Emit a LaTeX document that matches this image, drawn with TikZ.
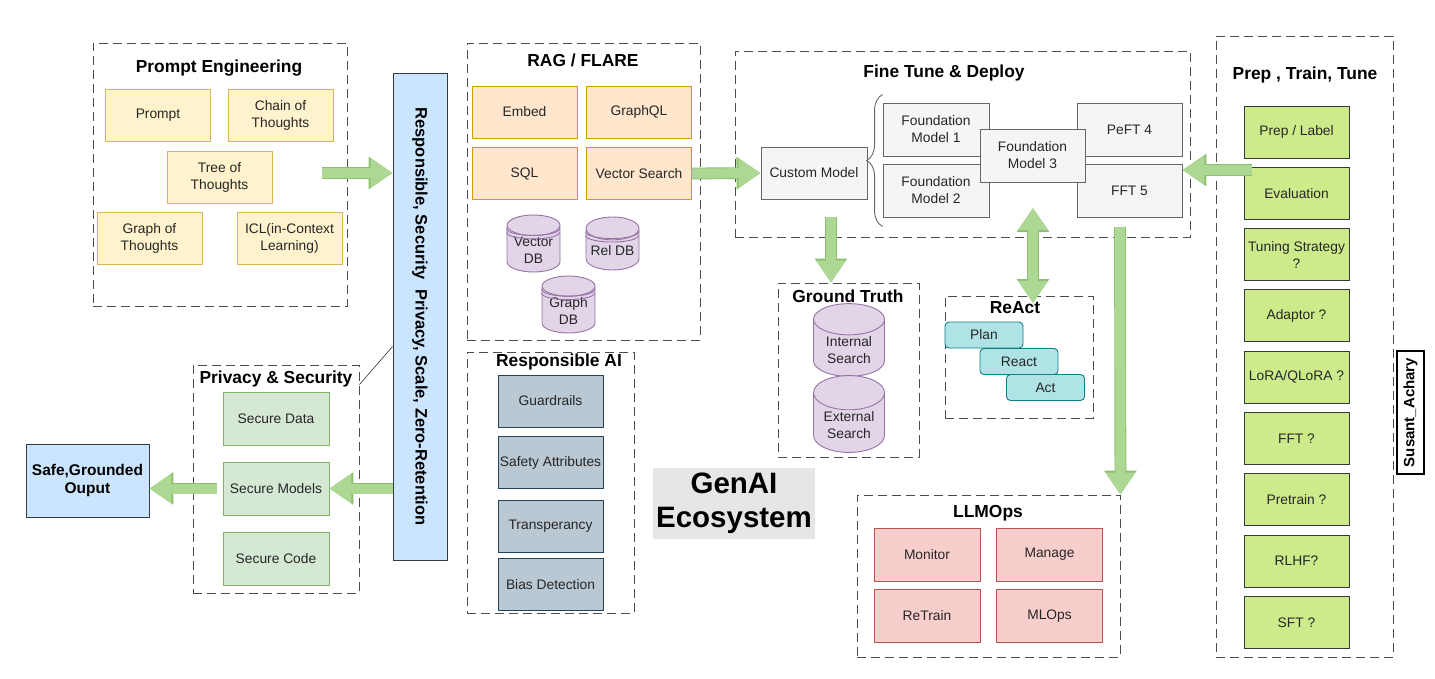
\documentclass[tikz,border=0pt]{standalone}
\usepackage{fontspec}
\setmainfont{Liberation Sans}
\usetikzlibrary{positioning,shapes.geometric,arrows.meta,decorations.pathreplacing,calc}

\definecolor{promptfill}{HTML}{FFF2CC}
\definecolor{promptline}{HTML}{D6B656}
\definecolor{ragfill}{HTML}{FFE6CC}
\definecolor{ragline}{HTML}{D79B00}
\definecolor{dbfill}{HTML}{E1D5E7}
\definecolor{dbline}{HTML}{9673A6}
\definecolor{secfill}{HTML}{D5E8D4}
\definecolor{secline}{HTML}{82B366}
\definecolor{barfill}{HTML}{CCE5FF}
\definecolor{barline}{HTML}{36393D}
\definecolor{raifill}{HTML}{BAC8D3}
\definecolor{railine}{HTML}{23445D}
\definecolor{ftfill}{HTML}{F5F5F5}
\definecolor{ftline}{HTML}{666666}
\definecolor{reactfill}{HTML}{B0E3E6}
\definecolor{reactline}{HTML}{0E8088}
\definecolor{opsfill}{HTML}{F8CECC}
\definecolor{opsline}{HTML}{B85450}
\definecolor{tunefill}{HTML}{CDEB8B}
\definecolor{tuneline}{HTML}{36393D}
\definecolor{flowgreen}{HTML}{ACD893}
\definecolor{flowedge}{HTML}{8CC070}
\definecolor{genaigray}{HTML}{E6E6E6}

\tikzset{
    group/.style={draw=black!70, line width=0.9pt, dash pattern=on 9pt off 5pt, inner sep=0pt},
    heading/.style={font=\bfseries\fontsize{17.4}{20}\selectfont, inner sep=1pt},
    box/.style={draw, line width=0.9pt, minimum width=105pt, minimum height=52pt, inner sep=1pt,
        align=center, text=black!85, font=\fontsize{13.8}{17}\selectfont},
    pbox/.style={box, fill=promptfill, draw=promptline},
    rbox/.style={box, fill=ragfill, draw=ragline},
    sbox/.style={box, fill=secfill, draw=secline},
    aibox/.style={box, fill=raifill, draw=railine},
    fbox/.style={box, fill=ftfill, draw=ftline},
    obox/.style={box, fill=opsfill, draw=opsline},
    tbox/.style={box, fill=tunefill, draw=tuneline},
    actbox/.style={box, fill=reactfill, draw=reactline, rounded corners=4pt, minimum width=78pt, minimum height=26pt},
    db/.style={cylinder, shape border rotate=90, aspect=0.5, anchor=shape center, draw=dbline, fill=dbfill,
        line width=0.9pt, minimum width=53pt, minimum height=53pt, inner sep=1pt, align=center, text=black!85,
        font=\fontsize{13.8}{17}\selectfont},
    dbring/.style={draw=dbline, line width=0.9pt},
    flow/.style={draw=flowgreen, line width=10pt, -{Triangle[length=22pt,width=28pt]},
        preaction={draw=flowedge, line width=11.8pt, -{Triangle[length=24pt,width=31pt]}}},
    flowboth/.style={draw=flowgreen, line width=10pt, {Triangle[length=22pt,width=28pt]}-{Triangle[length=22pt,width=28pt]},
        preaction={draw=flowedge, line width=11.8pt, {Triangle[length=24pt,width=31pt]}-{Triangle[length=24pt,width=31pt]}}}
}

\begin{document}
\begin{tikzpicture}[x=1pt, y=-1pt]
    \useasboundingbox (0,0) rectangle (1435,678);

    % Groups
    \node[group, minimum width=254pt, minimum height=263pt] (pe) at (220,174.5) {};
    \node[group, minimum width=166pt, minimum height=228pt] (priv) at (276,479) {};
    \node[group, minimum width=233pt, minimum height=297pt] (rag) at (583.5,191.5) {};
    \node[group, minimum width=167pt, minimum height=261pt] (rai) at (550.5,482.5) {};
    \node[group, minimum width=455pt, minimum height=186pt] (ft) at (962.5,144) {};
    \node[group, minimum width=141pt, minimum height=174pt] (gt) at (848.5,370) {};
    \node[group, minimum width=148pt, minimum height=122pt] (ra) at (1019,357) {};
    \node[group, minimum width=263pt, minimum height=162pt] (ops) at (988.5,576) {};
    \node[group, minimum width=177pt, minimum height=621pt] (ptt) at (1304.5,346.5) {};

    % Prompt Engineering
    \node[heading] (petitle) at (219,68) {Prompt Engineering};
    \node[pbox] (prompt) at (158,115.5) {Prompt};
    \node[pbox] (chain) at (280.5,115.5) {Chain of\\Thoughts};
    \node[pbox] (tree) at (219.5,177) {Tree of\\Thoughts};
    \node[pbox] (graph) at (149.5,238) {Graph of\\Thoughts};
    \node[pbox] (icl) at (289.5,238) {ICL(in-Context\\Learning)};

    % Responsible bar
    \node[draw=barline, fill=barfill, line width=0.9pt, minimum width=54pt, minimum height=487pt] (bar) at (420,316.5) {};
    \node[rotate=-90, font=\bfseries\fontsize{16.5}{19}\selectfont] (bartext) at (bar.center)
        {Responsible, Security\ \ Privacy, Scale, Zero-Retention};

    % Privacy & Security
    \node[heading] (privtitle) at (276,379) {Privacy \& Security};
    \node[sbox, minimum width=106pt, minimum height=53pt] (secdata) at (276,418.5) {Secure Data};
    \node[sbox, minimum width=106pt, minimum height=53pt] (secmod) at (276,488.5) {Secure Models};
    \node[sbox, minimum width=106pt, minimum height=53pt] (seccode) at (276,558.5) {Secure Code};

    \node[draw=barline, fill=barfill, line width=0.9pt, minimum width=123pt, minimum height=73pt, align=center,
        font=\bfseries\fontsize{15.5}{18}\selectfont] (safe) at (87.5,480.5) {Safe,Grounded\\Ouput};

    % RAG / FLARE
    \node[heading] (ragtitle) at (583,60) {RAG / FLARE};
    \node[rbox] (embed) at (524.5,112) {Embed};
    \node[rbox] (graphql) at (639,112) {GraphQL};
    \node[rbox] (sql) at (524.5,173.5) {SQL};
    \node[rbox] (vsearch) at (639,173.5) {Vector Search};
    \node[db] (vecdb) at (533.5,243.5) {Vector\\DB};
    \node[db] (reldb) at (612.5,243.5) {Rel DB};
    \node[db] (graphdb) at (568.5,304.5) {Graph\\DB};
    \draw[dbring] ($(vecdb.before top)+(0,3.5)$) arc[start angle=180, end angle=360, x radius=26.5pt, y radius=6.6pt]
        ($(vecdb.before top)+(0,7)$) arc[start angle=180, end angle=360, x radius=26.5pt, y radius=6.6pt];
    \draw[dbring] ($(reldb.before top)+(0,3.5)$) arc[start angle=180, end angle=360, x radius=26.5pt, y radius=6.6pt]
        ($(reldb.before top)+(0,7)$) arc[start angle=180, end angle=360, x radius=26.5pt, y radius=6.6pt];
    \draw[dbring] ($(graphdb.before top)+(0,3.5)$) arc[start angle=180, end angle=360, x radius=26.5pt, y radius=6.6pt]
        ($(graphdb.before top)+(0,7)$) arc[start angle=180, end angle=360, x radius=26.5pt, y radius=6.6pt];

    % Responsible AI
    \node[heading] (raititle) at (559,362) {Responsible AI};
    \node[aibox] (guard) at (550.5,401) {Guardrails};
    \node[aibox] (safety) at (550.5,462.5) {Safety Attributes};
    \node[aibox] (transp) at (550.5,526) {Transperancy};
    \node[aibox] (bias) at (550.5,584.5) {Bias Detection};

    \node[fill=genaigray, minimum width=156pt, minimum height=71pt, align=center,
        font=\bfseries\fontsize{29.5}{34}\selectfont] (genai) at (734,503.5) {GenAI\\Ecosystem};

    % Fine Tune & Deploy
    \node[heading] (fttitle) at (944,73) {Fine Tune \& Deploy};
    \node[fbox, minimum width=106pt] (custom) at (814,173) {Custom Model};
    \node[fbox, minimum width=106pt, minimum height=53pt] (fm1) at (936,129.5) {Foundation\\Model 1};
    \node[fbox, minimum width=106pt, minimum height=53pt] (fm2) at (936,190.5) {Foundation\\Model 2};
    \node[fbox, minimum width=105pt, minimum height=53pt] (peft) at (1129.5,129.5) {PeFT 4};
    \node[fbox, minimum width=105pt, minimum height=53pt] (fft5) at (1129.5,191) {FFT 5};
    \node[fbox, minimum width=105pt, minimum height=53pt] (fm3) at (1032.5,155.5) {Foundation\\Model 3};
    \draw[ftline, line width=0.9pt, decorate, decoration={brace, amplitude=16pt}]
        ([yshift=-9pt]fm2.south west) -- ([yshift=8pt]fm1.north west);

    % Ground Truth
    \node[heading] (gttitle) at (848,296) {Ground Truth};
    \node[db, aspect=0.65, minimum width=71pt, minimum height=70pt] (intsearch) at (849,340) {Internal\\Search};
    \node[db, aspect=0.65, minimum width=71pt, minimum height=69pt] (extsearch) at (849,414) {External\\Search};

    % ReAct
    \node[heading] (ratitle) at (1015,308) {ReAct};
    \node[actbox] (plan) at (984,335) {Plan};
    \node[actbox] (reactb) at (1019,361.5) {React};
    \node[actbox] (act) at (1045.5,387.5) {Act};

    % LLMOps
    \node[heading] (opstitle) at (988,513) {LLMOps};
    \node[obox, minimum width=106pt, minimum height=53pt] (monitor) at (927,554.5) {Monitor};
    \node[obox, minimum width=106pt, minimum height=53pt] (manage) at (1049.5,554.5) {Manage};
    \node[obox, minimum width=106pt, minimum height=53pt] (retrain) at (927,616) {ReTrain};
    \node[obox, minimum width=106pt, minimum height=53pt] (mlops) at (1049.5,616) {MLOps};

    % Prep, Train, Tune
    \node[heading] (ptttitle) at (1305,75) {Prep , Train, Tune};
    \node[tbox] (prep) at (1296.5,132) {Prep / Label};
    \node[tbox] (evalb) at (1296.5,193.3) {Evaluation};
    \node[tbox] (strategy) at (1296.5,254.6) {Tuning Strategy\\?};
    \node[tbox] (adaptor) at (1296.5,315.9) {Adaptor ?};
    \node[tbox] (lora) at (1296.5,377.2) {LoRA/QLoRA ?};
    \node[tbox] (fftq) at (1296.5,438.5) {FFT ?};
    \node[tbox] (pretrain) at (1296.5,499.8) {Pretrain ?};
    \node[tbox] (rlhf) at (1296.5,561.1) {RLHF?};
    \node[tbox] (sft) at (1296.5,622.4) {SFT ?};

    \node[draw=black, line width=2pt, rotate=90, minimum width=123pt, minimum height=27pt, inner sep=1pt,
        font=\bfseries\fontsize{15}{17}\selectfont] (author) at (1410.5,412.5) {Susant\_Achary};

    % Flows
    \coordinate (peout) at (322,173);
    \coordinate (custdown) at (831,217);
    \coordinate (fm3down) at (1033,208);
    \coordinate (raup) at (1033,303);
    \coordinate (fftdown) at (1120,227);
    \coordinate (tuneout) at (1252,170);
    \draw[flow] (peout) -- (bar.west |- peout);
    \draw[flow] (vsearch.east) -- (custom.west);
    \draw[flow] (bar.west |- secmod) -- (secmod.east);
    \draw[flow] ([xshift=-6pt]secmod.west) -- (safe.east |- secmod);
    \draw[flow] (custdown) -- (custdown |- gt.north);
    \draw[flowboth] (fm3down) -- (raup);
    \draw[flow] (fftdown) -- (ops.north east);
    \draw[flow] (tuneout) -- (fft5.east |- tuneout);
    \draw[black!80, line width=0.6pt] ([yshift=-30pt]bar.west) -- ([yshift=-20pt]priv.north east);

\end{tikzpicture}
\end{document}
